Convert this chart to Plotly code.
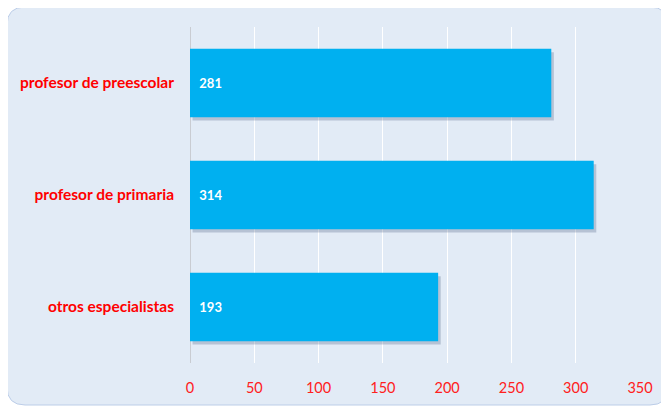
import plotly.graph_objects as go

categories = ["profesor de preescolar", "profesor de primaria", "otros especialistas"]
values = [281, 314, 193]
tick_vals = [0, 50, 100, 150, 200, 250, 300, 350]

# the page body adds an 8px margin, so the figure is sized to fit inside it
W, H = 661, 399
L, R, T, B = 182, 29, 19, 44
pw, ph = W - L - R, H - T - B
BAR_W = 0.61


def px_x(p):
    return (p - L) / pw


def px_y(p):
    return 1 - (p - T) / ph


def rounded_panel(x0, y0, x1, y1, r):
    # rounded rectangle in paper coords, given in pixels
    return (
        f"M {px_x(x0 + r)} {px_y(y0)} L {px_x(x1 - r)} {px_y(y0)} "
        f"Q {px_x(x1)} {px_y(y0)} {px_x(x1)} {px_y(y0 + r)} "
        f"L {px_x(x1)} {px_y(y1 - r)} "
        f"Q {px_x(x1)} {px_y(y1)} {px_x(x1 - r)} {px_y(y1)} "
        f"L {px_x(x0 + r)} {px_y(y1)} "
        f"Q {px_x(x0)} {px_y(y1)} {px_x(x0)} {px_y(y1 - r)} "
        f"L {px_x(x0)} {px_y(y0 + r)} "
        f"Q {px_x(x0)} {px_y(y0)} {px_x(x0 + r)} {px_y(y0)} Z"
    )


fig = go.Figure()

# soft drop shadow under the bars
fig.add_trace(
    go.Bar(
        y=categories,
        x=values,
        orientation="h",
        width=BAR_W,
        offset=-BAR_W / 2 + 0.03,
        base=2,
        marker=dict(color="rgba(70,90,125,0.28)", line=dict(width=0)),
        hoverinfo="skip",
    )
)

fig.add_trace(
    go.Bar(
        y=categories,
        x=values,
        orientation="h",
        width=BAR_W,
        marker=dict(color="#00b0f0", line=dict(width=0)),
        text=[f"  {v}" for v in values],
        textposition="inside",
        insidetextanchor="start",
        textfont=dict(family="Lato", size=13, color="white", weight="bold"),
        hoverinfo="x+y",
    )
)

fig.update_layout(
    width=W,
    height=H,
    margin=dict(l=L, r=R, t=T, b=B, pad=0),
    paper_bgcolor="white",
    plot_bgcolor="rgba(0,0,0,0)",
    showlegend=False,
    barmode="overlay",
    shapes=[
        dict(
            type="path",
            xref="paper",
            yref="paper",
            path=rounded_panel(-1, -1, 660, 397, 18),
            fillcolor="#e2ebf6",
            line=dict(color="#bccde8", width=1),
            layer="below",
        ),
        dict(
            type="line",
            xref="x",
            yref="paper",
            x0=0,
            x1=0,
            y0=0,
            y1=1,
            line=dict(color="#c9ccd2", width=2),
            layer="below",
        ),
    ],
    xaxis=dict(
        range=[0, 350],
        tickvals=tick_vals,
        showgrid=True,
        gridcolor="white",
        gridwidth=1,
        zeroline=False,
        showline=False,
        ticks="",
        tickfont=dict(family="Lato", size=14.5, color="#ff2020"),
        ticklabelstandoff=14,
    ),
    yaxis=dict(
        autorange="reversed",
        showgrid=False,
        zeroline=False,
        showline=False,
        ticks="",
        tickfont=dict(family="Lato", size=15.5, color="#ff0000", weight="bold"),
        ticklabelstandoff=15,
    ),
)

fig.write_html("out.html")
